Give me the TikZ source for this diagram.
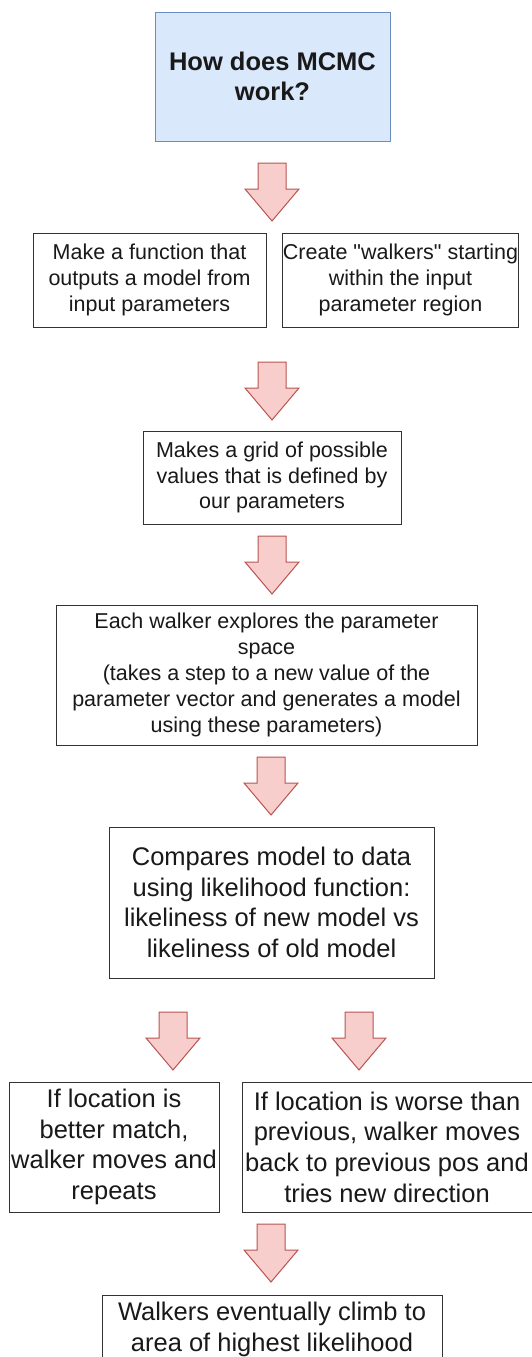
\documentclass[tikz,border=0pt]{standalone}
\usepackage{fontspec}
\setmainfont{Liberation Sans}
\usepackage{tikz}
\definecolor{titlefill}{RGB}{218,232,252}
\definecolor{titleline}{RGB}{108,142,191}
\definecolor{arrowfill}{RGB}{248,206,204}
\definecolor{arrowline}{RGB}{184,84,80}
\definecolor{boxline}{RGB}{51,51,51}
\definecolor{ink}{RGB}{25,25,25}
\tikzset{
  stepbox/.style={draw=boxline, line width=1pt, fill=white, inner sep=0pt, align=center,
    text=ink, font={\fontsize{21.5}{25.8}\selectfont}},
  bigbox/.style={stepbox, font={\fontsize{25.5}{30.6}\selectfont}},
  titlebox/.style={bigbox, draw=titleline, fill=titlefill, font={\fontsize{25.5}{30.6}\selectfont\bfseries}},
  arrowred/.style={draw=arrowline, fill=arrowfill, line width=1pt, line join=miter}
}
\newcommand{\blockarrow}[2]{\draw[arrowred] (#1-14,#2)--++(28,0)--++(0,26)--++(13,0)--++(-27,32)--++(-27,-32)--++(13,0)--cycle;}

\begin{document}
\begin{tikzpicture}[x=1pt,y=-1pt]
\useasboundingbox (0,0) rectangle (531,1357);
\node[titlebox, minimum width=235, minimum height=129] (title) at (272.5,76.5) {How does MCMC\\work?};
\blockarrow{272}{163}
\node[stepbox, minimum width=233, minimum height=94] (makefunc) at (149.5,280) {Make a function that\\outputs a model from\\input parameters};
\node[stepbox, minimum width=233, minimum height=94] (walkers) at (400.5,280) {Create \textquotedbl walkers\textquotedbl{} starting\\within the input\\parameter region};
\blockarrow{272}{362}
\node[stepbox, minimum width=258, minimum height=93] (grid) at (272,477.5) {Makes a grid of possible\\values that is defined by\\our parameters};
\blockarrow{272}{536}
\node[stepbox, minimum width=421, minimum height=140] (explore) at (266.5,675) {Each walker explores the parameter\\space\\(takes a step to a new value of the\\parameter vector and generates a model\\using these parameters)};
\blockarrow{271}{757}
\node[bigbox, minimum width=325, minimum height=151] (compare) at (271.5,902.5) {Compares model to data\\using likelihood function:\\likeliness of new model vs\\likeliness of old model};
\blockarrow{173}{1012}
\blockarrow{359}{1012}
\node[bigbox, minimum width=210, minimum height=130] (better) at (114,1147) {If location is\\better match,\\walker moves and\\repeats};
\node[bigbox, minimum width=290, minimum height=130] (worse) at (387,1147) {If location is worse than\\previous, walker moves\\back to previous pos and\\tries new direction};
\blockarrow{271}{1224}
\node[bigbox, minimum width=340, minimum height=68, anchor=north] (climb) at (272,1295) {Walkers eventually climb to\\area of highest likelihood};
\end{tikzpicture}
\end{document}
